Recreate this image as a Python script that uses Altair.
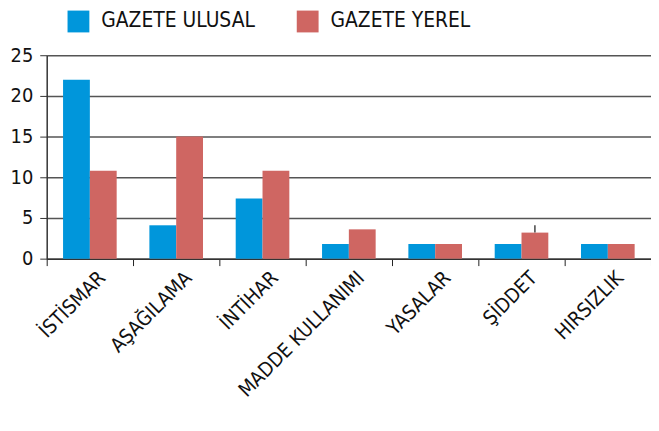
import altair as alt
import pandas as pd

categories = ["İSTİSMAR", "AŞAĞILAMA", "İNTİHAR", "MADDE KULLANIMI", "YASALAR", "ŞİDDET", "HIRSIZLIK"]
series = ["GAZETE ULUSAL", "GAZETE YEREL"]
ulusal = [22, 4.1, 7.4, 1.8, 1.8, 1.8, 1.8]
yerel = [10.8, 15, 10.8, 3.6, 1.8, 3.2, 1.8]
colors = ["#0096DB", "#CF6662"]
y_ticks = [0, 5, 10, 15, 20, 25]

# small error tick visible above ŞİDDET / yerel
err_cat = ["ŞİDDET"]
err_low = [3.2]
err_high = [4.1]

rows = []
for c, u, v in zip(categories, ulusal, yerel):
    rows.append({"kategori": c, "seri": series[0], "deger": u})
    rows.append({"kategori": c, "seri": series[1], "deger": v})
df = pd.DataFrame(rows)
err_df = pd.DataFrame({"kategori": err_cat, "seri": [series[1]], "lo": err_low, "hi": err_high})

FONT = "DejaVu Sans Condensed"

x_enc = alt.X(
    "kategori:N",
    sort=categories,
    title=None,
    scale=alt.Scale(paddingInner=0, paddingOuter=0),
    axis=alt.Axis(
        labelAngle=-45,
        tickBand="extent",
        tickSize=7,
        tickColor="#222",
        domainColor="#333",
        domainWidth=1.5,
        labelFontSize=20,
        labelFont=FONT,
        labelColor="#111",
        labelPadding=2,
        labelOffset=5,
        grid=False,
    ),
)
xoff = alt.XOffset(
    "seri:N",
    sort=series,
    scale=alt.Scale(domain=series, paddingOuter=0.61, paddingInner=0),
)

bars = alt.Chart(df).mark_bar().encode(
    x=x_enc,
    xOffset=xoff,
    y=alt.Y(
        "deger:Q",
        title=None,
        scale=alt.Scale(domain=[0, 25], nice=False),
        axis=alt.Axis(
            values=y_ticks,
            tickSize=7,
            tickColor="#333",
            domainColor="#333",
            domainWidth=1.5,
            gridColor="#555",
            gridWidth=1.5,
            labelFontSize=20,
            labelFont=FONT,
            labelColor="#111",
            labelPadding=7,
        ),
    ),
    color=alt.Color(
        "seri:N",
        sort=series,
        scale=alt.Scale(domain=series, range=colors),
        legend=alt.Legend(
            title=None,
            orient="none",
            legendX=21,
            legendY=-45,
            direction="horizontal",
            symbolType="square",
            symbolSize=484,
            symbolStrokeWidth=0,
            symbolOpacity=1,
            labelFontSize=21,
            labelFont=FONT,
            labelColor="#111",
            labelOffset=12,
            columnPadding=42,
        ),
    ),
)

err = alt.Chart(err_df).mark_rule(color="#444", strokeWidth=1.5, xOffset=4).encode(
    x=alt.X("kategori:N", sort=categories),
    xOffset=alt.XOffset("seri:N", sort=series),
    y="lo:Q",
    y2="hi:Q",
)

chart = (
    alt.layer(bars, err)
    .properties(
        width=609,
        height=205,
        autosize=alt.AutoSizeParams(type="none"),
        padding={"left": 39, "top": 46, "right": 0, "bottom": 160},
    )
    .configure_view(stroke=None)
    .configure_axis(gridOpacity=1)
)

chart.save("out.html", embed_options={"renderer": "svg", "actions": False})
